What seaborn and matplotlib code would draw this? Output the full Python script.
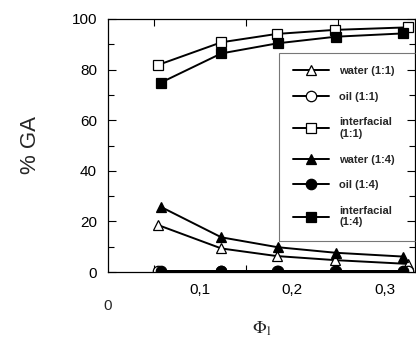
import os
import numpy as np
import pandas as pd
import matplotlib
matplotlib.use("Agg")
import matplotlib.pyplot as plt
import seaborn as sns
from matplotlib import font_manager
from matplotlib.ticker import MultipleLocator, FixedLocator, FixedFormatter

# data
phi_11 = [0.054, 0.123, 0.183, 0.246, 0.325]
phi_14 = [0.057, 0.123, 0.184, 0.247, 0.320]
water_11 = [18.6, 9.3, 6.3, 4.7, 3.2]
oil_11 = [0.2, 0.2, 0.2, 0.2, 0.2]
inter_11 = [81.8, 90.8, 94.1, 95.7, 96.7]
water_14 = [25.8, 13.7, 9.8, 7.6, 6.1]
oil_14 = [0.3, 0.3, 0.3, 0.3, 0.3]
inter_14 = [74.8, 86.4, 90.4, 93.0, 94.3]

series = [
    ("water (1:1)", phi_11, water_11, "^", "white"),
    ("oil (1:1)", phi_11, oil_11, "o", "white"),
    ("interfacial\n(1:1)", phi_11, inter_11, "s", "white"),
    ("water (1:4)", phi_14, water_14, "^", "black"),
    ("oil (1:4)", phi_14, oil_14, "o", "black"),
    ("interfacial\n(1:4)", phi_14, inter_14, "s", "black"),
]

sns.set_style("ticks")
plt.rcParams['font.family'] = ['Liberation Sans', 'DejaVu Sans']
plt.rcParams['mathtext.fontset'] = 'stix'

# use the normal-width bold Liberation Sans file for the legend
bold_file = None
for f in font_manager.fontManager.ttflist:
    if os.path.basename(f.fname) == "LiberationSans-Bold.ttf":
        bold_file = f.fname
if bold_file:
    leg_font = font_manager.FontProperties(fname=bold_file, size=8)
else:
    leg_font = font_manager.FontProperties(family="DejaVu Sans", weight="bold", size=7)

fig = plt.figure(figsize=(4.16, 3.38), dpi=100)
ax = fig.add_axes([108/416, 66/338, 307/416, 253/338])

for label, x, y, m, fc in series:
    df = pd.DataFrame({"x": x, "y": y})
    sns.lineplot(data=df, x="x", y="y", ax=ax, color="black", linewidth=1.4,
                 marker=m, markersize=7.5, markerfacecolor=fc,
                 markeredgecolor="black", markeredgewidth=0.9,
                 label=label, clip_on=True)

ax.set_xlim(0, 0.333)
ax.set_ylim(0, 100)
ax.xaxis.set_major_locator(FixedLocator([0, 0.1, 0.2, 0.3]))
ax.xaxis.set_major_formatter(FixedFormatter(["", "0,1", "0,2", "0,3"]))
ax.xaxis.set_minor_locator(MultipleLocator(0.05))
ax.yaxis.set_major_locator(MultipleLocator(20))
ax.yaxis.set_minor_locator(MultipleLocator(10))
ax.tick_params(which="both", direction="in", top=True, right=True, labelsize=11, colors="black")
ax.tick_params(which="major", length=6, width=0.8, pad=8)
ax.tick_params(which="minor", length=4, width=0.8)
ax.tick_params(axis="x", which="major", length=0)
ax.tick_params(axis="x", which="minor", length=5)
ax.text(0, -0.135, "0", transform=ax.transAxes, ha="center", va="center", fontsize=11)
for s in ax.spines.values():
    s.set_linewidth(0.9)
    s.set_color("black")

ax.set_xlabel(r"$\Phi_{\rm l}$", fontsize=13, labelpad=16)
ax.set_ylabel("% GA", fontsize=16, labelpad=22)

leg = ax.legend(loc="upper left", bbox_to_anchor=(0.558, 0.126, 0.5, 0.74),
                mode="expand", ncol=1,
                prop=leg_font, handlelength=3.3,
                labelspacing=1.4, frameon=True, fancybox=False,
                borderpad=1.2, handletextpad=0.9, borderaxespad=0)
leg.get_frame().set_edgecolor("#555555")
leg.get_frame().set_linewidth(0.8)
leg.get_frame().set_facecolor("none")

fig.savefig("out.png", dpi=100)
